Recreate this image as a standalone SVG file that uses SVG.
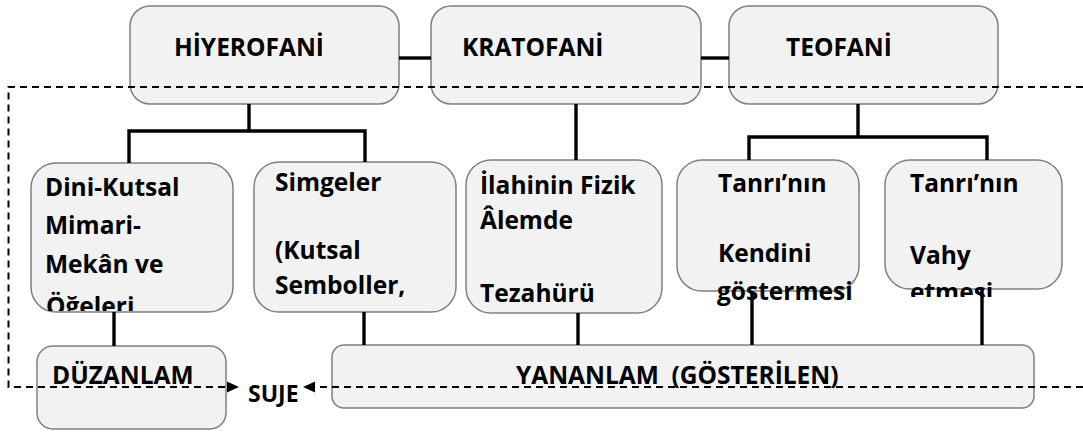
<svg xmlns="http://www.w3.org/2000/svg" width="1083" height="432" viewBox="0 0 1083 432">
<style>
.box{fill:#f2f2f2;stroke:#7f7f7f;stroke-width:1.5}
.t{font-family:"Open Sans","Noto Sans","DejaVu Sans",sans-serif;font-weight:700;font-size:24.5px;fill:#000}
.c{stroke:#000;stroke-width:3.4;fill:none}
.d{stroke:#000;stroke-width:2;fill:none;stroke-dasharray:7 5}
.ah{fill:#000;stroke:none}
</style>
<defs>
<clipPath id="clipDini"><rect x="31" y="163" width="202" height="148"/></clipPath>
<clipPath id="clipVahy"><rect x="880" y="150" width="190" height="147"/></clipPath>
</defs>

<g id="hiyerofani">
<rect class="box" x="130" y="6" width="269" height="98" rx="20"/>
<text class="t" x="174" y="56">HİYEROFANİ</text>
</g>
<g id="kratofani">
<rect class="box" x="431" y="6" width="270" height="98" rx="20"/>
<text class="t" x="462" y="56">KRATOFANİ</text>
</g>
<g id="teofani">
<rect class="box" x="729" y="6" width="269" height="98" rx="20"/>
<text class="t" x="786" y="56">TEOFANİ</text>
</g>

<g id="dini">
<rect class="box" x="31" y="163" width="202" height="149" rx="25"/>
<g clip-path="url(#clipDini)">
<text class="t" x="45" y="196">Dini-Kutsal</text>
<text class="t" x="45" y="234">Mimari-</text>
<text class="t" x="45" y="273">Mekân ve</text>
<text class="t" x="46" y="315">Öğeleri</text>
</g>
</g>
<g id="simgeler">
<rect class="box" x="254" y="162" width="202" height="150" rx="25"/>
<text class="t" x="275" y="191">Simgeler</text>
<text class="t" x="275" y="259">(Kutsal</text>
<text class="t" x="275" y="294">Semboller,</text>
</g>
<g id="ilahinin">
<rect class="box" x="466" y="160" width="196" height="153" rx="25"/>
<text class="t" x="480" y="194">İlahinin Fizik</text>
<text class="t" x="480" y="229">Âlemde</text>
<text class="t" x="480" y="302">Tezahürü</text>
</g>
<g id="tanri1">
<rect class="box" x="677" y="160" width="182" height="131" rx="25"/>
<text class="t" x="718" y="192">Tanrı’nın</text>
<text class="t" x="718" y="262">Kendini</text>
<text class="t" x="717" y="300">göstermesi</text>
</g>
<g id="tanri2">
<rect class="box" x="885" y="160" width="177" height="129" rx="25"/>
<text class="t" x="910" y="192">Tanrı’nın</text>
<text class="t" x="910" y="264">Vahy</text>
<g clip-path="url(#clipVahy)">
<text class="t" x="910" y="301">etmesi</text>
</g>
</g>

<g id="duzanlam">
<rect class="box" x="37" y="346" width="189" height="83" rx="16"/>
<text class="t" x="52" y="384">DÜZANLAM</text>
</g>
<g id="suje">
<text class="t" x="248" y="402" style="font-size:23px">SUJE</text>
</g>
<g id="yananlam">
<rect class="box" x="332" y="345" width="702" height="63" rx="12"/>
<text class="t" x="516" y="384" xml:space="preserve">YANANLAM  (GÖSTERİLEN)</text>
</g>

<g id="connectors">
<line class="c" x1="399" y1="58" x2="431" y2="58"/>
<line class="c" x1="701" y1="58" x2="729" y2="58"/>
<path class="c" d="M249,104 V131 M129,163 V131 H365 V162"/>
<line class="c" x1="576" y1="104" x2="576" y2="160"/>
<path class="c" d="M858,104 V137 M749,160 V137 H987 V160"/>
<line class="c" x1="114" y1="312" x2="114" y2="346"/>
<line class="c" x1="364" y1="312" x2="364" y2="345"/>
<line class="c" x1="578" y1="313" x2="578" y2="345"/>
<line class="c" x1="752" y1="293" x2="752" y2="345"/>
<line class="c" x1="982" y1="289" x2="982" y2="345"/>
<path class="d" d="M1083,87 H8.5 V387 H228"/>
<polygon class="ah" points="227,381.5 239,387 227,392.5"/>
<path class="d" d="M1083,387 H314"/>
<polygon class="ah" points="315,381.5 303,387 315,392.5"/>
</g>
</svg>
